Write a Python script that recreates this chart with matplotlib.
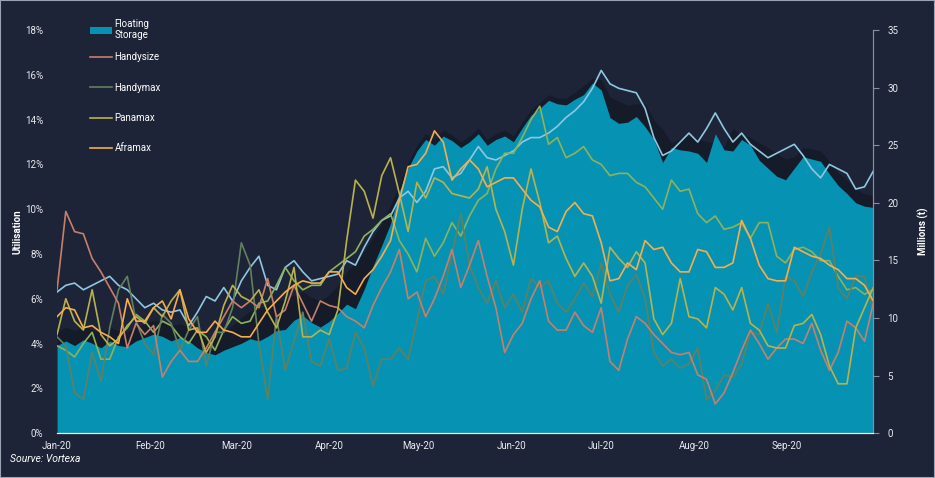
import pandas as pd
import matplotlib.pyplot as plt
import matplotlib.dates as mdates
from matplotlib.patches import Rectangle

plt.rcParams['font.family'] = ['Roboto', 'DejaVu Sans']

# 94 evenly spaced samples, 1 Jan to 30 Sep 2020
dates = pd.date_range("2020-01-01", "2020-09-30", periods=94)

# floating storage, millions t (right axis)
floating = [7.6, 8.0, 7.6, 8.1, 7.8, 7.4, 8.0, 7.6, 7.5, 8.0,
            8.3, 8.6, 8.4, 8.0, 8.3, 8.0, 7.4, 7.0, 6.8, 7.2,
            7.5, 7.8, 8.2, 8.0, 8.4, 8.9, 9.0, 9.8, 10.2, 9.6,
            9.2, 9.7, 10.4, 11.2, 10.8, 12.5, 14.5, 16.3, 18.2, 21.0,
            23.0, 24.5, 25.5, 25.0, 25.8, 25.4, 24.8, 25.3, 26.0, 25.0,
            25.5, 25.8, 25.3, 26.5, 27.6, 28.2, 28.9, 28.6, 28.5, 29.0,
            29.4, 30.4, 29.8, 27.4, 26.9, 27.0, 27.5, 26.6, 25.5, 23.5,
            24.8, 24.6, 24.5, 24.3, 23.5, 26.0, 24.6, 24.5, 25.5, 25.0,
            23.7, 23.0, 22.3, 22.0, 23.0, 24.0, 23.8, 23.6, 22.5, 21.5,
            20.8, 20.0, 19.7, 19.6]
# darker band behind the floating storage area
floating_dark = [8.8, 9.2, 8.9, 9.3, 9.0, 8.7, 9.2, 8.9, 8.8, 9.2,
                 9.5, 9.8, 9.7, 9.3, 9.5, 9.2, 8.7, 8.3, 8.3, 8.8,
                 9.4, 10.0, 10.6, 10.8, 11.2, 11.5, 11.6, 12.0, 12.3, 11.8,
                 11.5, 12.0, 12.8, 14.0, 14.8, 15.8, 17.0, 18.2, 19.8, 21.5,
                 23.5, 25.0, 26.0, 25.5, 26.3, 25.9, 25.3, 25.8, 26.5, 25.5,
                 26.0, 26.3, 25.8, 27.0, 28.1, 28.7, 29.4, 29.1, 29.1, 29.6,
                 30.2, 30.8, 30.7, 29.2, 28.8, 28.5, 28.6, 28.6, 27.2, 26.4,
                 25.2, 25.6, 25.8, 25.6, 25.3, 25.2, 24.9, 26.5, 25.8, 25.7,
                 25.2, 24.8, 24.3, 23.8, 24.0, 24.8, 24.7, 24.5, 23.6, 22.6,
                 22.0, 21.2, 20.8, 20.6]

# utilisation, % (left axis)
handysize = [6.4, 9.9, 9.0, 8.9, 7.8, 7.2, 6.5, 5.8, 3.8, 4.9,
             4.4, 4.8, 2.5, 3.2, 3.7, 3.2, 3.2, 3.8, 4.5, 5.2,
             5.9, 5.6, 5.9, 5.6, 6.9, 5.2, 5.5, 6.6, 5.8, 5.0,
             5.9, 5.7, 5.6, 5.2, 5.0, 4.7, 5.7, 6.5, 7.2, 8.2,
             6.0, 6.3, 5.2, 6.0, 7.0, 8.2, 6.5, 7.5, 8.6, 7.0,
             5.6, 3.6, 4.4, 4.9, 6.0, 6.8, 5.0, 4.6, 4.6, 5.4,
             4.8, 4.5, 5.6, 3.2, 2.8, 4.2, 5.2, 4.9, 4.4, 4.0,
             3.6, 3.5, 3.6, 2.6, 2.4, 1.3, 1.8, 2.7, 3.7, 4.6,
             4.0, 3.3, 3.8, 4.2, 4.2, 4.0, 4.9, 3.7, 2.8, 3.6,
             5.0, 4.7, 4.1, 5.8]
handymax = [4.3, 3.9, 1.8, 1.5, 3.6, 2.3, 4.7, 6.4, 7.0, 5.0,
            4.0, 3.5, 5.3, 4.9, 3.7, 4.6, 5.2, 3.0, 4.5, 4.5,
            5.6, 8.5, 7.5, 4.0, 1.5, 5.2, 2.8, 4.1, 5.4, 3.2,
            3.0, 4.2, 2.8, 2.9, 4.5, 3.8, 2.1, 3.3, 3.3, 3.8,
            3.3, 5.0, 6.8, 7.0, 6.2, 8.0, 9.8, 7.5, 6.5, 5.8,
            6.8, 5.6, 6.2, 5.4, 6.9, 6.5, 6.8, 5.8, 5.4, 6.0,
            6.7, 6.1, 7.6, 6.2, 5.4, 6.6, 7.1, 6.0, 3.6, 3.0,
            3.3, 2.9, 3.1, 3.8, 1.5, 1.9, 2.6, 2.5, 3.1, 4.5,
            4.4, 5.8, 4.5, 7.0, 6.8, 6.1, 7.2, 8.0, 9.2, 6.5,
            6.0, 7.0, 7.0, 5.5]
panamax = [4.4, 6.0, 5.0, 4.6, 6.4, 4.4, 3.9, 4.2, 4.8, 5.2,
           4.9, 5.6, 5.2, 5.9, 6.4, 4.6, 4.7, 3.6, 4.3, 5.7,
           6.6, 6.1, 5.9, 6.4, 5.4, 4.7, 5.9, 7.4, 4.3, 4.3,
           4.6, 4.4, 5.5, 8.6, 11.3, 10.8, 9.6, 11.5, 12.3, 10.7,
           9.0, 11.2, 10.5, 11.4, 11.2, 10.7, 10.6, 10.5, 10.9, 11.9,
           10.0, 9.0, 7.5, 10.0, 11.8, 10.3, 8.5, 8.8, 7.8, 7.0,
           7.6, 7.0, 5.8, 8.3, 7.8, 7.4, 8.1, 7.6, 5.1, 4.4,
           4.9, 6.9, 5.2, 5.1, 4.7, 6.5, 6.2, 5.5, 6.5, 4.9,
           4.6, 3.9, 3.8, 3.8, 4.8, 4.9, 5.3, 4.4, 3.0, 2.2,
           2.2, 4.7, 5.6, 6.5]
aframax = [5.2, 5.6, 5.5, 4.7, 4.8, 4.5, 4.3, 4.0, 6.0, 5.0,
           5.0, 5.6, 5.9, 5.1, 6.4, 5.1, 4.5, 4.5, 5.0, 4.6,
           4.5, 4.3, 4.3, 4.9, 5.5, 5.9, 6.3, 6.6, 6.8, 6.7,
           6.7, 7.2, 7.2, 6.5, 6.2, 6.9, 7.3, 7.9, 8.6, 10.4,
           11.9, 12.0, 12.5, 13.5, 13.0, 11.3, 11.8, 12.2, 11.8, 11.0,
           11.2, 11.4, 11.4, 10.9, 10.4, 10.1, 9.2, 9.0, 9.9, 10.3,
           9.8, 9.7, 8.5, 6.8, 6.9, 7.6, 7.3, 8.6, 8.2, 8.3,
           7.6, 7.2, 7.2, 8.2, 8.1, 7.4, 7.4, 7.6, 9.5, 8.7,
           7.5, 6.9, 6.8, 6.8, 8.3, 8.1, 7.9, 7.8, 7.5, 7.3,
           6.9, 6.9, 6.6, 5.9]
# unlabelled series
other_green = [3.9, 3.7, 3.4, 4.0, 4.5, 3.3, 3.3, 4.3, 4.7, 5.3,
               5.0, 4.5, 5.0, 4.8, 4.3, 4.0, 4.6, 4.3, 3.7, 4.6,
               5.2, 4.9, 5.0, 5.8, 5.9, 6.6, 7.4, 6.8, 6.4, 6.6,
               6.6, 7.2, 7.5, 7.8, 8.1, 8.8, 9.1, 9.5, 9.8, 8.6,
               8.0, 7.2, 8.7, 7.9, 8.5, 9.4, 8.8, 9.7, 10.4, 10.7,
               11.8, 12.5, 12.5, 13.2, 14.0, 14.6, 12.9, 13.2, 12.3, 12.5,
               12.8, 12.2, 12.0, 11.5, 11.6, 11.6, 11.2, 11.0, 10.5, 10.0,
               11.3, 10.8, 10.9, 9.8, 9.4, 9.7, 9.1, 9.2, 9.4, 8.7,
               9.4, 9.4, 7.9, 7.6, 8.2, 8.3, 8.1, 7.7, 7.7, 7.0,
               6.4, 6.5, 6.2, 6.4]
other_blue = [6.3, 6.6, 6.7, 6.4, 6.6, 6.8, 7.0, 6.6, 6.4, 6.0,
              5.6, 5.8, 5.5, 5.4, 5.5, 4.8, 5.4, 6.1, 5.9, 6.5,
              5.9, 6.8, 7.4, 7.9, 6.6, 6.4, 7.4, 7.7, 7.2, 6.8,
              6.9, 7.0, 7.1, 7.7, 7.5, 8.3, 9.0, 9.5, 9.7, 10.5,
              10.8, 10.3, 10.8, 11.8, 11.9, 11.4, 11.6, 12.2, 12.8, 12.3,
              12.2, 12.4, 12.6, 13.0, 13.2, 13.2, 13.4, 13.7, 14.1, 14.4,
              14.8, 15.4, 16.2, 15.6, 15.4, 15.3, 15.2, 14.5, 13.2, 12.4,
              12.6, 13.0, 13.4, 13.0, 13.6, 14.3, 13.6, 13.0, 13.4, 12.9,
              12.6, 12.3, 12.5, 12.7, 12.9, 12.4, 11.8, 11.4, 12.0, 11.8,
              11.6, 10.9, 11.0, 11.7]

bg = "#1e2438"
txt = "#e8eaee"

fig = plt.figure(figsize=(9.35, 4.78), dpi=100, facecolor=bg)
ax = fig.add_axes([0.061, 0.094, 0.873, 0.843], facecolor=bg)
ax2 = ax.twinx()

# area on the right-hand scale (drawn underneath)
ax.fill_between(dates, floating_dark, color="#161b2a", lw=0)
ax.fill_between(dates, floating, color="#0693b3", lw=0, label="Floating\nStorage")
ax.set_ylim(0, 35)
ax.set_yticks(range(0, 36, 5))
ax.yaxis.tick_right()
ax.yaxis.set_label_position("right")
ax.set_ylabel("Millions (t)", color="white", fontsize=7, fontweight="bold", labelpad=14)
ax.tick_params(axis="y", colors=txt, labelsize=7, length=4, color="#8a8f9a", pad=6)

# utilisation lines on the left-hand scale
ax2.plot(dates, other_blue, color="#8fc6e0", lw=1.2)
ax2.plot(dates, other_green, color="#8db25a", lw=1.2)
ax2.plot(dates, handymax, color="#62805f", lw=1.2, label="Handymax")
ax2.plot(dates, handysize, color="#c77f6b", lw=1.2, label="Handysize")
ax2.plot(dates, panamax, color="#b9b24c", lw=1.2, label="Panamax")
ax2.plot(dates, aframax, color="#f7ad4c", lw=1.2, label="Aframax")
ax2.set_ylim(0, 18)
ax2.set_yticks(range(0, 19, 2))
ax2.set_yticklabels([f"{v}%" for v in range(0, 19, 2)])
ax2.yaxis.tick_left()
ax2.yaxis.set_label_position("left")
ax2.set_ylabel("Utilisation", color="white", fontsize=7, fontweight="bold", labelpad=2)
ax2.tick_params(axis="y", colors=txt, labelsize=7, length=0, pad=10)

ax.set_xlim(dates[0], dates[-1])
ax.xaxis.set_major_locator(mdates.MonthLocator())
ax.xaxis.set_major_formatter(mdates.DateFormatter("%b-%y"))
ax.tick_params(axis="x", colors=txt, labelsize=7, length=0, pad=6)

for a in (ax, ax2):
    for s in ("top", "left"):
        a.spines[s].set_visible(False)
    a.spines["bottom"].set_color("white")
    a.spines["right"].set_color("#8a8f9a")

# legends
leg1 = ax2.legend(*ax.get_legend_handles_labels(), loc="upper left",
                  bbox_to_anchor=(0.03, 1.05), frameon=False, fontsize=7,
                  labelcolor="white", handlelength=2.2, handletextpad=0.3)
ax2.add_artist(leg1)
h, l = ax2.get_legend_handles_labels()
order = [1, 0, 2, 3]
ax2.legend([h[i] for i in order], [l[i] for i in order], loc="upper left",
           bbox_to_anchor=(0.03, 0.967), frameon=False, fontsize=7,
           labelcolor="white", handlelength=2.2, handletextpad=0.3,
           labelspacing=2.1)

fig.text(0.011, 0.033, "Sourve: Vortexa", color="white", fontsize=7.5, style="italic")
fig.add_artist(Rectangle((0, 0), 1, 1, transform=fig.transFigure, fill=False,
                         edgecolor="#9aa3b5", lw=1.5))

fig.savefig("out.png", dpi=100, facecolor=bg)
